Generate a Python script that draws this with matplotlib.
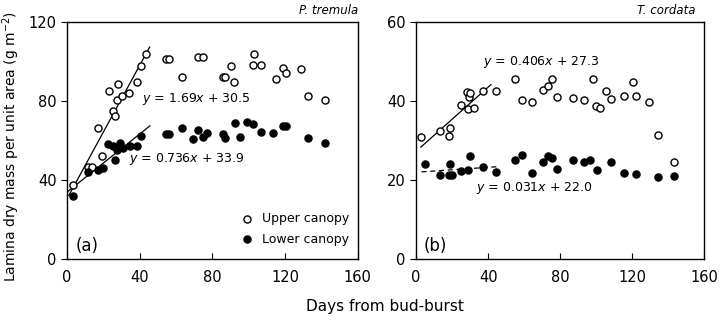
import matplotlib.pyplot as plt
import numpy as np

# P. tremula (panel a)
a_up_days = [3.1, 11.4, 13.9, 17.2, 19.4, 23.1, 25.5, 26.4, 27.7, 28.2, 30.0, 34.3, 38.3, 40.7, 43.4,
             54.4, 56.2, 63.4, 72.2, 74.6, 86.0, 87.2, 90.0, 92.0, 102.4, 102.8, 107.0,
             114.9, 118.9, 120.7, 128.6, 132.6, 141.8]
a_up_mass = [37.5, 46.7, 46.7, 66.2, 52.3, 85.2, 74.9, 72.6, 80.5, 88.6, 82.5, 84.2, 89.8, 97.7, 103.6,
             101.3, 101.3, 92.0, 102.3, 102.3, 92.2, 92.2, 98.0, 89.8, 98.2, 103.6, 98.2,
             91.1, 97.0, 94.4, 96.5, 82.5, 80.5]
a_low_days = [3.1, 11.7, 17.2, 19.6, 22.7, 25.5, 26.4, 27.5, 29.1, 31.0, 34.6, 38.3, 40.7,
              54.4, 56.2, 63.4, 69.1, 72.2, 74.6, 77.1, 86.0, 87.2, 92.3, 95.1, 99.3, 102.4,
              106.6, 113.4, 118.9, 120.7, 132.6, 141.8]
a_low_mass = [31.9, 44.2, 45.1, 45.9, 58.2, 57.2, 50.1, 55.5, 58.9, 56.5, 57.2, 57.2, 62.3,
              63.3, 63.3, 66.2, 60.6, 65.3, 61.9, 63.9, 63.1, 61.1, 68.7, 61.9, 69.5, 68.4,
              64.5, 63.9, 67.3, 67.3, 61.4, 58.6]

# T. cordata (panel b)
b_up_days = [2.6, 13.0, 18.0, 18.9, 24.8, 28.2, 28.7, 29.4, 30.0, 32.2, 37.4, 44.4, 55.0, 58.7, 64.3,
             70.4, 73.1, 75.7, 78.1, 87.4, 93.0, 98.0, 100.0, 102.2, 105.6, 108.3, 115.2,
             120.2, 122.2, 129.1, 134.1, 143.0]
b_up_mass = [30.8, 32.5, 31.1, 33.2, 39.0, 42.4, 37.9, 41.1, 42.0, 38.2, 42.6, 42.6, 45.5, 40.4, 39.8,
             42.8, 43.8, 45.5, 41.1, 40.8, 40.4, 45.6, 38.7, 38.2, 42.6, 40.5, 41.2,
             44.9, 41.2, 39.7, 31.4, 24.6]
b_low_days = [5.0, 13.0, 18.0, 18.9, 19.8, 24.8, 28.7, 30.0, 37.4, 44.4, 55.0, 58.7, 64.3, 70.4,
              73.1, 75.7, 78.1, 87.4, 93.0, 96.7, 100.4, 108.1, 115.2, 122.2, 134.1, 143.0]
b_low_mass = [24.0, 21.4, 21.4, 24.0, 21.4, 22.3, 22.5, 26.1, 23.4, 22.1, 25.1, 26.3, 21.7, 24.5,
              26.2, 25.5, 22.7, 25.2, 24.6, 25.2, 22.5, 24.6, 21.8, 21.5, 20.7, 21.0]

# regression lines: (slope, intercept, x start, x end)
a_fit_up = (1.69, 30.5, 1.0, 45.5)
a_fit_low = (0.736, 33.9, 0.5, 45.6)
b_fit_up = (0.406, 27.3, 2.6, 41.5)
b_fit_low = (0.031, 22.0, 3.0, 44.8)

plt.rcParams['font.family'] = ['DejaVu Sans']

fig = plt.figure(figsize=(7.2, 3.28), dpi=100)
ax1 = fig.add_axes([0.093, 0.21, 0.404, 0.7226])
ax2 = fig.add_axes([0.578, 0.21, 0.40, 0.7226])


def fit_line(ax, fit, ls='-'):
    m, c, x0, x1 = fit
    xs = np.array([x0, x1])
    ax.plot(xs, m * xs + c, color='black', lw=0.9, ls=ls, zorder=1)


def style(ax, ymax, yticks):
    ax.set_xlim(0, 160)
    ax.set_ylim(0, ymax)
    ax.set_xticks([0, 40, 80, 120, 160])
    ax.set_yticks(yticks)
    ax.tick_params(axis='x', direction='in', length=4, labelsize=10.5, pad=8)
    ax.tick_params(axis='y', direction='out', length=4, labelsize=10.5)
    for s in ax.spines.values():
        s.set_linewidth(1.0)


# panel a
fit_line(ax1, a_fit_up)
fit_line(ax1, a_fit_low)
ax1.scatter(a_up_days, a_up_mass, s=26, facecolors='white', edgecolors='black', linewidths=1.0, zorder=3,
            label='Upper canopy')
ax1.scatter(a_low_days, a_low_mass, s=26, color='black', zorder=3, label='Lower canopy')
ax1.text(41.5, 81, r'$y$ = 1.69$x$ + 30.5', fontsize=9, va='center')
ax1.text(34.2, 50.5, r'$y$ = 0.736$x$ + 33.9', fontsize=9, va='center')
ax1.text(5, 6.6, '(a)', fontsize=12, va='center')
ax1.text(1.0, 1.02, 'P. tremula', style='italic', fontsize=8.5, ha='right', va='bottom',
         transform=ax1.transAxes)
ax1.legend(loc='lower right', frameon=False, fontsize=9, handletextpad=0.2, borderaxespad=0.3,
           labelspacing=0.6, scatterpoints=1, bbox_to_anchor=(1.0, 0.02))
style(ax1, 120, [0, 40, 80, 120])

# panel b
fit_line(ax2, b_fit_up)
fit_line(ax2, b_fit_low, ls=(0, (4, 3)))
ax2.scatter(b_up_days, b_up_mass, s=26, facecolors='white', edgecolors='black', linewidths=1.0, zorder=3)
ax2.scatter(b_low_days, b_low_mass, s=26, color='black', zorder=3)
ax2.text(37, 50, r'$y$ = 0.406$x$ + 27.3', fontsize=9, va='center')
ax2.text(33.3, 17.9, r'$y$ = 0.031$x$ + 22.0', fontsize=9, va='center')
ax2.text(4, 3.3, '(b)', fontsize=12, va='center')
ax2.text(0.97, 1.02, 'T. cordata', style='italic', fontsize=8.5, ha='right', va='bottom',
         transform=ax2.transAxes)
style(ax2, 60, [0, 20, 40, 60])

fig.text(11 / 720, 1 - 147 / 328, r'Lamina dry mass per unit area (g m$^{-2}$)', rotation=90,
         ha='center', va='center', fontsize=10)
fig.text(0.535, 0.065, 'Days from bud-burst', ha='center', va='center', fontsize=11)

fig.savefig('out.png', dpi=100)
